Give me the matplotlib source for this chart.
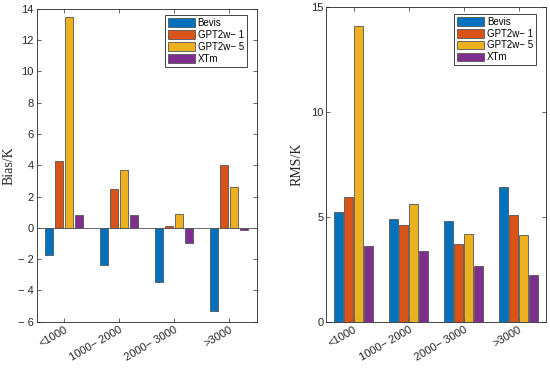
import numpy as np
import matplotlib.pyplot as plt

groups = ['<1000', '1000~2000', '2000~3000', '>3000']
models = ['Bevis', 'GPT2w-1', 'GPT2w-5', 'XTm']
colors = ['#0072BD', '#D95319', '#EDB120', '#7E2F8E']

bias = {
    'Bevis':   [-1.75, -2.40, -3.45, -5.35],
    'GPT2w-1': [4.27, 2.45, 0.13, 4.02],
    'GPT2w-5': [13.45, 3.72, 0.85, 2.58],
    'XTm':     [0.82, 0.82, -0.97, -0.15],
}
rms = {
    'Bevis':   [5.23, 4.93, 4.82, 6.44],
    'GPT2w-1': [5.96, 4.64, 3.74, 5.12],
    'GPT2w-5': [14.10, 5.61, 4.21, 4.13],
    'XTm':     [3.61, 3.37, 2.67, 2.26],
}
labels = ['Bevis', 'GPT2w\u2212 1', 'GPT2w\u2212 5', 'XTm']
xlabels = ['<1000', '1000\u2212 2000', '2000\u2212 3000', '>3000']

plt.rcParams['font.family'] = ['Liberation Sans', 'DejaVu Sans']

fig = plt.figure(figsize=(5.5, 3.68), dpi=100)
ax1 = fig.add_axes([0.0667, 0.126, 0.400, 0.850])
ax2 = fig.add_axes([0.593, 0.125, 0.400, 0.855])

x = np.arange(1, len(groups) + 1)
slot = 0.182
w = 0.152

def draw(ax, data, ylim, yticks, ylabel, labx):
    for i, m in enumerate(models):
        ax.bar(x + (i - 1.5) * slot, data[m], w, color=colors[i],
               edgecolor='#555555', linewidth=0.6, label=labels[i], zorder=2)
    ax.axhline(0, color='#555555', linewidth=0.6, zorder=3)
    ax.set_xlim(0.5, 4.5)
    ax.set_ylim(*ylim)
    ax.set_yticks(yticks)
    ax.set_yticklabels([str(t).replace('-', '\u2212 ') for t in yticks])
    ax.set_xticks(x)
    ax.set_xticklabels(xlabels, rotation=30, ha='right', rotation_mode='anchor')
    ax.tick_params(direction='in', length=3, width=0.5, labelsize=8, pad=2,
                   colors='#262626', top=True, right=True)
    for s in ax.spines.values():
        s.set_linewidth(0.6)
        s.set_color('#262626')
    ax.set_ylabel(ylabel, family='Liberation Serif', fontsize=10, color='#262626')
    ax.yaxis.set_label_coords(labx, 0.5)
    leg = ax.legend(loc='upper right', bbox_to_anchor=(0.955, 0.98),
                    borderaxespad=0, fontsize=7, fancybox=False,
                    edgecolor='#262626', framealpha=1, handlelength=2.8,
                    handleheight=1.0, borderpad=0.3, labelspacing=0.2,
                    handletextpad=0.3)
    leg.get_frame().set_linewidth(0.6)

draw(ax1, bias, (-6, 14), list(range(-6, 15, 2)), 'Bias/K', -0.098)
draw(ax2, rms, (0, 15), [0, 5, 10, 15], 'RMS/K', -0.105)

fig.savefig('out.png', dpi=100)
